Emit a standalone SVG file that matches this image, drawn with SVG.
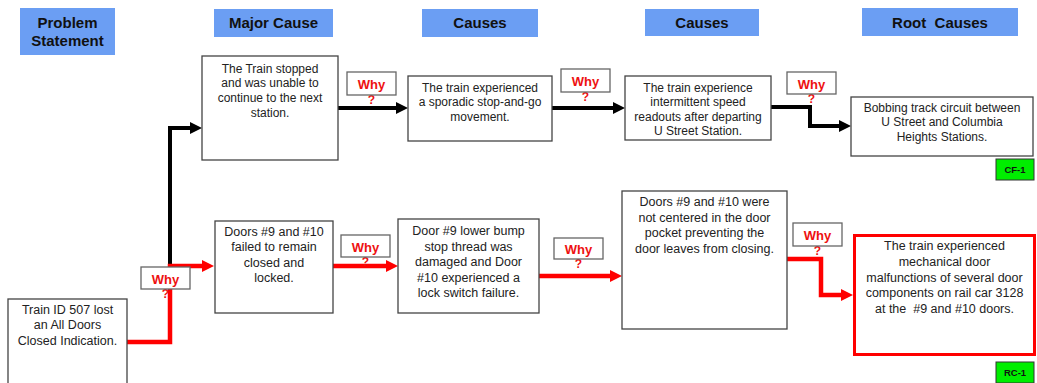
<svg xmlns="http://www.w3.org/2000/svg" width="1037" height="383" viewBox="0 0 1037 383">
<style>
.hdr{fill:#6b9ef3}
.ht{font-family:"Liberation Sans",Arial,sans-serif;font-weight:bold;font-size:15px;fill:#111;text-anchor:middle;white-space:pre}
.box{fill:#fff;stroke:#444;stroke-width:1.3}
.t{font-family:"Liberation Sans",Arial,sans-serif;font-size:12px;fill:#222;text-anchor:middle;white-space:pre}
.tb{font-family:"Liberation Sans",Arial,sans-serif;font-size:12.5px;fill:#222;text-anchor:middle;white-space:pre}
.why{fill:#fff;stroke:#666;stroke-width:1.3}
.wt{font-family:"Liberation Sans",Arial,sans-serif;font-weight:bold;font-size:13px;fill:#ee1111;text-anchor:middle}
.q{font-family:"Liberation Sans",Arial,sans-serif;font-weight:bold;font-size:12px;fill:#ee1111;text-anchor:middle}
.blk{fill:none;stroke:#000;stroke-width:4}
.red{fill:none;stroke:#ff0000;stroke-width:4.5}
.tag{fill:#00ee00;stroke:#333;stroke-width:1}
.tt{font-family:"Liberation Sans",Arial,sans-serif;font-weight:bold;font-size:9.5px;fill:#111;text-anchor:middle}
</style>
<defs>
<marker id="ab" markerUnits="userSpaceOnUse" markerWidth="12" markerHeight="12" viewBox="0 0 12 12" refX="1" refY="6" orient="auto"><path d="M0,0 L12,6 L0,12 z" fill="#000"/></marker>
<marker id="ar" markerUnits="userSpaceOnUse" markerWidth="12" markerHeight="12" viewBox="0 0 12 12" refX="1" refY="6" orient="auto"><path d="M0,0 L12,6 L0,12 z" fill="#ff0000"/></marker>
</defs>
<rect width="1037" height="383" fill="#fff"/>

<g id="headers">
<g id="h-problem"><rect class="hdr" x="20" y="8" width="95" height="47"/><text class="ht" x="67.5" y="28">Problem</text><text class="ht" x="67.5" y="46">Statement</text></g>
<g id="h-major"><rect class="hdr" x="214" y="9" width="119" height="28"/><text class="ht" x="273.5" y="28">Major Cause</text></g>
<g id="h-causes1"><rect class="hdr" x="422" y="9" width="116" height="28"/><text class="ht" x="480" y="28">Causes</text></g>
<g id="h-causes2"><rect class="hdr" x="645" y="9" width="114" height="27"/><text class="ht" x="702" y="28">Causes</text></g>
<g id="h-root"><rect class="hdr" x="862" y="8" width="156" height="28"/><text class="ht" x="940" y="28">Root  Causes</text></g>
</g>

<g id="connectors">
<path class="blk" d="M170,267 V128 H191" marker-end="url(#ab)"/>
<path class="blk" d="M338,108 H397" marker-end="url(#ab)"/>
<path class="blk" d="M552,108 H614" marker-end="url(#ab)"/>
<path class="blk" d="M771,107 H810 V126 H840" marker-end="url(#ab)"/>
<path class="red" d="M127,342 H170 V266 H203" marker-end="url(#ar)"/>
<path class="red" d="M333,266 H387" marker-end="url(#ar)"/>
<path class="red" d="M539,276 H611" marker-end="url(#ar)"/>
<path class="red" d="M787,259 H821 V295 H842" marker-end="url(#ar)"/>
</g>

<g id="n-stopped"><rect class="box" x="202" y="56" width="136" height="104"/>
<text class="t" x="270" y="72.5">The Train stopped</text><text class="t" x="270" y="87">and was unable to</text><text class="t" x="270" y="101.5">continue to the next</text><text class="t" x="270" y="116.5">station.</text></g>

<g id="n-sporadic"><rect class="box" x="408" y="76" width="144" height="65"/>
<text class="t" x="480" y="91.5">The train experienced</text><text class="t" x="480" y="106">a sporadic stop-and-go</text><text class="t" x="480" y="120.5">movement.</text></g>

<g id="n-intermittent"><rect class="box" x="625" y="76" width="146" height="64"/>
<text class="t" x="698" y="91.5">The train experience</text><text class="t" x="698" y="106">intermittent speed</text><text class="t" x="698" y="120.5">readouts after departing</text><text class="t" x="698" y="135">U Street Station.</text></g>

<g id="n-bobbing"><rect class="box" x="851" y="97" width="182" height="59"/>
<text class="t" x="942" y="111.5">Bobbing track circuit between</text><text class="t" x="942" y="126">U Street and Columbia</text><text class="t" x="942" y="140.5">Heights Stations.</text></g>

<g id="tag-cf1"><rect class="tag" x="996" y="159" width="38" height="21"/><text class="tt" x="1015" y="173">CF-1</text></g>

<g id="n-train507"><rect class="box" x="8" y="299" width="119" height="95"/>
<text class="tb" x="67.5" y="313.5">Train ID 507 lost</text><text class="tb" x="67.5" y="329">an All Doors</text><text class="tb" x="67.5" y="344.5">Closed Indication.</text></g>

<g id="n-doors-failed"><rect class="box" x="215" y="221" width="118" height="92"/>
<text class="tb" x="274" y="236">Doors #9 and #10</text><text class="tb" x="274" y="251">failed to remain</text><text class="tb" x="274" y="266.5">closed and</text><text class="tb" x="274" y="282">locked.</text></g>

<g id="n-door9"><rect class="box" x="398" y="219" width="141" height="94"/>
<text class="tb" x="468.5" y="235">Door #9 lower bump</text><text class="tb" x="468.5" y="250.5">stop thread was</text><text class="tb" x="468.5" y="266">damaged and Door</text><text class="tb" x="468.5" y="281.5">#10 experienced a</text><text class="tb" x="468.5" y="297">lock switch failure.</text></g>

<g id="n-not-centered"><rect class="box" x="622" y="191" width="165" height="138"/>
<text class="tb" x="704.5" y="206">Doors #9 and #10 were</text><text class="tb" x="704.5" y="221.5">not centered in the door</text><text class="tb" x="704.5" y="237">pocket preventing the</text><text class="tb" x="704.5" y="252.5">door leaves from closing.</text></g>

<g id="n-root-mech"><rect x="854.5" y="235.5" width="180" height="119" fill="#fff" stroke="#ff0000" stroke-width="3"/>
<text class="tb" x="944.5" y="250">The train experienced</text><text class="tb" x="944.5" y="266">mechanical door</text><text class="tb" x="944.5" y="281.5">malfunctions of several door</text><text class="tb" x="944.5" y="297">components on rail car 3128</text><text class="tb" x="944.5" y="312.5">at the  #9 and #10 doors.</text></g>

<g id="tag-rc1"><rect class="tag" x="996" y="362" width="38" height="21"/><text class="tt" x="1015" y="376">RC-1</text></g>

<g id="why-1"><text class="q" x="371.5" y="104">?</text><rect class="why" x="347" y="72" width="49" height="23"/><text class="wt" x="371.5" y="89">Why</text></g>
<g id="why-2"><text class="q" x="585.5" y="101">?</text><rect class="why" x="561" y="69" width="49" height="23"/><text class="wt" x="585.5" y="86">Why</text></g>
<g id="why-3"><text class="q" x="811.5" y="103">?</text><rect class="why" x="787" y="72" width="49" height="22"/><text class="wt" x="811.5" y="88.5">Why</text></g>
<g id="why-4"><text class="q" x="165.5" y="298">?</text><rect class="why" x="141" y="267" width="49" height="22"/><text class="wt" x="165.5" y="283.5">Why</text></g>
<g id="why-5"><text class="q" x="365.5" y="266">?</text><rect class="why" x="341" y="235" width="49" height="22"/><text class="wt" x="365.5" y="251.5">Why</text></g>
<g id="why-6"><text class="q" x="578.5" y="268">?</text><rect class="why" x="554" y="238" width="49" height="21"/><text class="wt" x="578.5" y="254">Why</text></g>
<g id="why-7"><text class="q" x="817.5" y="255">?</text><rect class="why" x="793" y="223" width="49" height="23"/><text class="wt" x="817.5" y="240">Why</text></g>
</svg>
